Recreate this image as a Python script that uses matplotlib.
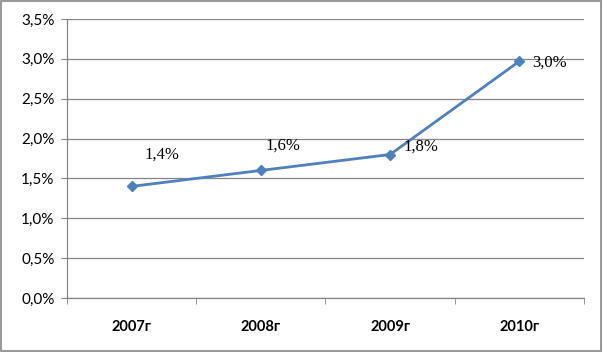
import numpy as np
import matplotlib.pyplot as plt
from matplotlib.patches import Rectangle
from matplotlib.ticker import FixedLocator

years = ["2007г", "2008г", "2009г", "2010г"]
values = [1.4, 1.6, 1.8, 2.97]
labels = ["1,4%", "1,6%", "1,8%", "3,0%"]
yticks = [0.0, 0.5, 1.0, 1.5, 2.0, 2.5, 3.0, 3.5]
ytick_labels = ["0,0%", "0,5%", "1,0%", "1,5%", "2,0%", "2,5%", "3,0%", "3,5%"]
label_offsets = [(22, 23), (16, 18), (22, 6), (22, -1)]


def main():
    fig = plt.figure(figsize=(6.04, 3.55), dpi=100)
    ax = fig.add_axes([0.1109, 0.1606, 0.8560, 0.7859])

    x = np.arange(len(years))
    ax.plot(x, values, color="#4F81BD", linewidth=2.0, marker="D",
            markersize=5.5, markerfacecolor="#4F81BD", markeredgecolor="#4F81BD",
            zorder=3)

    for xi, v, lab, off in zip(x, values, labels, label_offsets):
        ax.annotate(lab, (xi, v), xytext=off, textcoords="offset points",
                    ha="center", va="center", fontsize=12,
                    family="Liberation Serif", color="black")

    ax.set_xlim(-0.5, len(years) - 0.5)
    ax.set_ylim(0, 3.5)
    ax.set_yticks(yticks)
    ax.set_yticklabels(ytick_labels, family="Lato", fontsize=11)
    ax.yaxis.grid(True, color="#868686", linewidth=0.9)
    ax.set_axisbelow(True)

    ax.set_xticks(x)
    ax.set_xticklabels(years, family="Lato", fontsize=10.5, fontweight="bold")
    ax.xaxis.set_minor_locator(FixedLocator(np.arange(-0.5, len(years), 1.0)))
    ax.tick_params(axis="x", which="major", length=0, pad=16)
    ax.tick_params(axis="x", which="minor", length=4, color="#868686", direction="out")
    ax.tick_params(axis="y", length=4, color="#868686", pad=5)

    for side in ["top", "right"]:
        ax.spines[side].set_visible(False)
    for side in ["left", "bottom"]:
        ax.spines[side].set_color("#868686")
        ax.spines[side].set_linewidth(0.9)

    fig.patches.append(Rectangle((0.002, 0.012), 0.993, 0.985, transform=fig.transFigure,
                                 fill=False, edgecolor="#868686", linewidth=1.2))

    fig.savefig("out.png", dpi=100)


if __name__ == "__main__":
    main()
